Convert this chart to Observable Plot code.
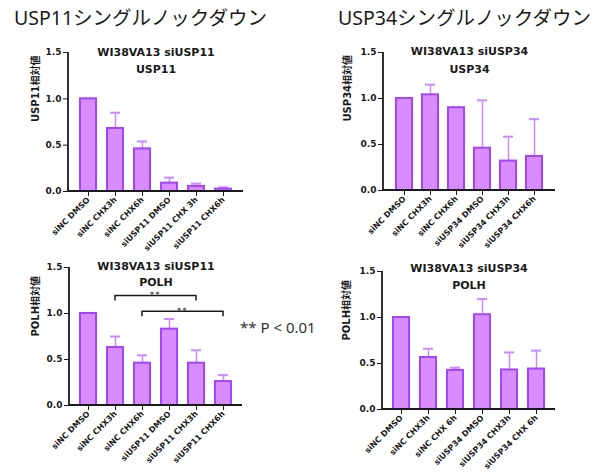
<!DOCTYPE html>
<html>
<head>
<meta charset="utf-8">
<script src="https://cdn.jsdelivr.net/npm/d3@7"></script>
<script src="https://cdn.jsdelivr.net/npm/@observablehq/plot@0.6"></script>
<style>
  body { margin: 0; background: #fff; }
  #page { position: relative; width: 603px; height: 472px; overflow: hidden; background: #fff; }
  .bigtitle { position: absolute; font-family: "Noto Sans", "Noto Sans CJK JP", sans-serif; font-size: 19.5px; line-height: 1; color: #1a1a1a; white-space: nowrap; }
  .pnote { position: absolute; font-family: "Noto Sans", sans-serif; font-size: 15px; line-height: 1; color: #333; white-space: nowrap; }
  #page svg g[aria-label="y-axis tick label"], #page svg g[aria-label="y-axis"] text { font-size: 9px; }
</style>
</head>
<body>
<div id="page">
  <div class="bigtitle" id="t1" style="left:14px;top:8px;"></div>
  <div class="bigtitle" id="t2" style="left:338px;top:8px;"></div>
  <div class="pnote" id="pnote" style="left:240px;top:320px;"></div>
</div>
<script>
// ---------- data ----------
const pageTitles = ["USP11シングルノックダウン", "USP34シングルノックダウン"];
const pNote = "** P < 0.01";
const yTicks = [0, 0.5, 1.0, 1.5];

// Panel A: WI38VA13 siUSP11 / USP11
const usp11Title = ["WI38VA13 siUSP11", "USP11"];
const usp11YLabel = "USP11相対値";
const usp11Labels = ["siNC DMSO", "siNC CHX3h", "siNC CHX6h", "siUSP11 DMSO", "siUSP11 CHX 3h", "siUSP11 CHX6h"];
const usp11Values = [1.0, 0.68, 0.46, 0.09, 0.055, 0.025];
const usp11Errors = [null, 0.17, 0.08, 0.06, 0.03, 0.02];

// Panel B: WI38VA13 siUSP34 / USP34
const usp34Title = ["WI38VA13 siUSP34", "USP34"];
const usp34YLabel = "USP34相対値";
const usp34Labels = ["siNC DMSO", "siNC CHX3h", "siNC CHX6h", "siUSP34 DMSO", "siUSP34 CHX3h", "siUSP34 CHX6h"];
const usp34Values = [1.0, 1.04, 0.9, 0.46, 0.32, 0.37];
const usp34Errors = [null, 0.11, null, 0.52, 0.265, 0.405];

// Panel C: WI38VA13 siUSP11 / POLH
const polh11Title = ["WI38VA13 siUSP11", "POLH"];
const polh11YLabel = "POLH相対値";
const polh11Labels = ["siNC DMSO", "siNC CHX3h", "siNC CHX6h", "siUSP11 DMSO", "siUSP11 CHX3h", "siUSP11 CHX6h"];
const polh11Values = [1.0, 0.63, 0.46, 0.83, 0.46, 0.26];
const polh11Errors = [null, 0.12, 0.085, 0.11, 0.14, 0.07];
const polh11CompFrom = ["siNC CHX3h", "siNC CHX6h"];
const polh11CompTo = ["siUSP11 CHX3h", "siUSP11 CHX6h"];
const polh11CompLevel = [1.19, 1.02];
const polh11CompLabel = ["**", "**"];

// Panel D: WI38VA13 siUSP34 / POLH
const polh34Title = ["WI38VA13 siUSP34", "POLH"];
const polh34YLabel = "POLH相対値";
const polh34Labels = ["siNC DMSO", "siNC CHX3h", "siNC CHX 6h", "siUSP34 DMSO", "siUSP34 CHX3h", "siUSP34 CHX 6h"];
const polh34Values = [1.0, 0.565, 0.425, 1.03, 0.43, 0.44];
const polh34Errors = [null, 0.095, 0.03, 0.17, 0.19, 0.2];

// ---------- styling ----------
const FILL = "#d88cff";
const STROKE = "#a345ff";
const ERR = "#c98bff";
const INK = "#1a1a1a";
const FONT = "'DejaVu Sans', 'Noto Sans CJK JP', sans-serif";

document.getElementById("t1").textContent = pageTitles[0];
document.getElementById("t2").textContent = pageTitles[1];
document.getElementById("pnote").textContent = pNote;

// Left + bottom axis lines drawn from the frame dimensions
function axisLines(index, scales, values, dims) {
  const {marginLeft, marginTop, marginBottom, marginRight, width, height} = dims;
  const p = d3.create("svg:path")
    .attr("fill", "none").attr("stroke", INK).attr("stroke-width", 1.8)
    .attr("d", `M${marginLeft},${marginTop}V${height - marginBottom}H${width - marginRight}`);
  return p.node();
}

function bracketMark(froms, tos, levels, labels) {
  return (index, scales) => {
    const {x, y} = scales;
    const half = x.bandwidth ? x.bandwidth() / 2 : 0;
    const g = d3.create("svg:g");
    froms.forEach((f, i) => {
      const x1 = x(f) + half, x2 = x(tos[i]) + half, py = y(levels[i]);
      g.append("path").attr("fill", "none").attr("stroke", INK).attr("stroke-width", 1.5)
        .attr("d", `M${x1},${py + 5}V${py}H${x2}V${py + 5}`);
      g.append("text").attr("x", (x1 + x2) / 2).attr("y", py + 1.5)
        .attr("text-anchor", "middle").attr("font-size", 7.5).attr("fill", "#444")
        .attr("letter-spacing", 1.5).text(labels[i]);
    });
    return g.node();
  };
}

function panel(cfg) {
  const rows = cfg.labels.map((label, i) => ({
    label, value: cfg.values[i],
    upper: cfg.errors[i] == null ? null : cfg.values[i] + cfg.errors[i]
  }));
  const withErr = rows.filter(d => d.upper != null);
  const L = cfg.layout;
  const marks = [
    Plot.ruleX(withErr, {x: "label", y1: "value", y2: "upper", stroke: ERR, strokeWidth: 1.5}),
    Plot.tickY(withErr, {x: "label", y: "upper", stroke: ERR, strokeWidth: 2, insetLeft: 4, insetRight: 4}),
    Plot.barY(rows, {x: "label", y: "value", fill: FILL, stroke: STROKE, strokeWidth: 2, insetLeft: 1, insetRight: 1}),
    axisLines,
    Plot.text([cfg.title[0]], {text: d => d, frameAnchor: "top", dy: L.t1, fontSize: 11, fontWeight: "bold", fill: INK}),
    Plot.text([cfg.title[1]], {text: d => d, frameAnchor: "top", dy: L.t2, fontSize: 11, fontWeight: "bold", fill: INK}),
    Plot.text([cfg.yLabel], {text: d => d, frameAnchor: "left", dx: L.yl, rotate: -90, fontSize: 10, fontWeight: "bold", fill: INK})
  ];
  if (cfg.brackets) marks.push(cfg.brackets);
  return Plot.plot({
    width: L.width, height: L.height,
    marginLeft: L.ml, marginRight: L.mr, marginTop: L.mt, marginBottom: L.mb,
    x: {domain: cfg.labels, paddingInner: 0.32, paddingOuter: 0.36, tickSize: 5, tickPadding: 2, tickRotate: -45, label: null},
    y: {domain: [0, 1.5], ticks: yTicks, tickFormat: d3.format(".1f"), tickSize: 5, tickPadding: 2, label: null},
    style: {
      position: "absolute", left: L.left + "px", top: L.top + "px",
      background: "transparent", overflow: "visible",
      fontFamily: FONT, fontWeight: "bold", fontSize: "8px", color: INK
    },
    marks
  });
}

const page = document.getElementById("page");
page.appendChild(panel({
  title: usp11Title, yLabel: usp11YLabel, labels: usp11Labels, values: usp11Values, errors: usp11Errors,
  layout: {left: 0, top: 0, width: 300, height: 245, ml: 68, mr: 57, mt: 52, mb: 54, t1: -4, t2: 13, yl: -33}
}));
page.appendChild(panel({
  title: usp34Title, yLabel: usp34YLabel, labels: usp34Labels, values: usp34Values, errors: usp34Errors,
  layout: {left: 300, top: 0, width: 303, height: 245, ml: 83, mr: 48, mt: 52, mb: 55, t1: -5, t2: 13, yl: -36}
}));
page.appendChild(panel({
  title: polh11Title, yLabel: polh11YLabel, labels: polh11Labels, values: polh11Values, errors: polh11Errors,
  brackets: bracketMark(polh11CompFrom, polh11CompTo, polh11CompLevel, polh11CompLabel),
  layout: {left: 0, top: 230, width: 300, height: 242, ml: 69, mr: 58, mt: 37, mb: 67, t1: -5.5, t2: 11, yl: -34}
}));
page.appendChild(panel({
  title: polh34Title, yLabel: polh34YLabel, labels: polh34Labels, values: polh34Values, errors: polh34Errors,
  layout: {left: 300, top: 230, width: 303, height: 242, ml: 82, mr: 48, mt: 41, mb: 63, t1: -7, t2: 10, yl: -36}
}));
</script>
</body>
</html>
